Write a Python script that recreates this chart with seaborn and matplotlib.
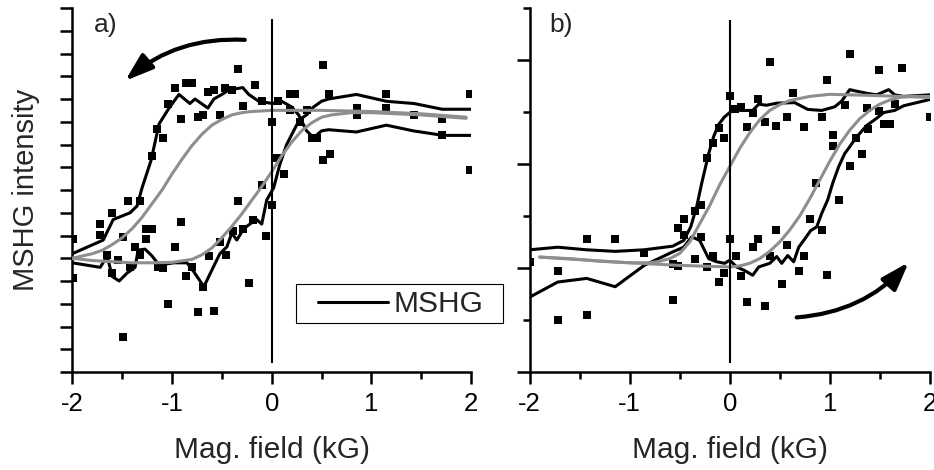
import matplotlib
matplotlib.use("Agg")
import matplotlib.pyplot as plt
import seaborn as sns
import pandas as pd
from matplotlib.lines import Line2D
from matplotlib.patches import Rectangle
from matplotlib.ticker import MultipleLocator

# ---------------- data ----------------
# Panel a) measured points
a_pts_x = [-1.99, -1.99, -1.72, -1.72, -1.65, -1.60, -1.60, -1.54, -1.49, -1.49,
           -1.44, -1.42, -1.37, -1.32, -1.32, -1.26, -1.26, -1.20, -1.20, -1.15,
           -1.14, -1.09, -1.09, -1.04, -1.04, -0.97, -0.97, -0.91, -0.91, -0.86,
           -0.86, -0.80, -0.80, -0.74, -0.74, -0.69, -0.69, -0.64, -0.63, -0.58,
           -0.58, -0.52, -0.52, -0.47, -0.46, -0.40, -0.39, -0.34, -0.34, -0.29,
           -0.29, -0.23, -0.19, -0.17, -0.10, -0.10, -0.06, 0.00, 0.00, 0.05,
           0.06, 0.12, 0.18, 0.23, 0.18, 0.28, 0.35, 0.40, 0.45, 0.51,
           0.51, 0.58, 0.57, 0.86, 0.86, 1.15, 1.15, 1.43, 1.71, 1.71,
           1.99, 1.99]
a_pts_y = [5.85, 4.13, 6.5, 6.02, 5.14, 7.0, 4.35, 4.92, 5.93, 1.54,
           7.5, 4.63, 5.5, 7.5, 5.14, 6.3, 5.85, 6.3, 9.5, 10.7,
           4.63, 4.56, 10.3, 11.8, 3.0, 12.5, 5.5, 11.1, 6.6, 12.7,
           4.2, 12.7, 4.63, 11.2, 2.63, 11.3, 3.73, 12.3, 5.1, 12.4,
           2.7, 11.3, 5.7, 12.5, 5.14, 12.4, 6.2, 13.3, 7.5, 11.7,
           6.3, 3.9, 6.7, 12.6, 8.2, 11.9, 6.0, 11.0, 7.34, 9.4,
           11.9, 8.7, 12.2, 12.2, 11.5, 11.0, 11.5, 10.3, 10.3, 9.3,
           13.5, 9.6, 12.2, 11.6, 11.3, 12.2, 11.6, 11.3, 11.1, 10.4,
           12.2, 8.9]

# Panel a) smoothed MSHG branches (black)
a_br1_x = [-2.0, -1.69, -1.59, -1.42, -1.35, -1.30, -1.21, -1.13, -1.03, -0.93,
           -0.82, -0.77, -0.64, -0.58, -0.50, -0.43, -0.29, -0.23, -0.13, 0.01,
           0.10, 0.20, 0.27, 0.35, 0.42, 0.50, 0.57, 0.85, 1.15, 1.42, 1.72, 2.0]
a_br1_y = [5.2, 5.8, 6.7, 7.0, 7.3, 8.1, 9.3, 10.9, 11.6, 12.2,
           11.8, 12.0, 11.6, 12.0, 12.2, 12.4, 12.5, 12.2, 11.9, 11.8,
           11.9, 11.65, 11.3, 10.6, 10.3, 10.6, 10.65, 10.55, 10.85, 10.6, 10.4, 10.4]
a_br2_x = [-2.0, -1.72, -1.65, -1.60, -1.53, -1.45, -1.37, -1.34, -1.27, -1.20,
           -1.13, -0.98, -0.85, -0.78, -0.68, -0.62, -0.52, -0.45, -0.40, -0.35,
           -0.28, -0.22, -0.15, -0.10, -0.05, 0.02, 0.08, 0.15, 0.22, 0.28,
           0.35, 0.42, 0.50, 0.57, 0.85, 1.15, 1.43, 1.71, 2.0]
a_br2_y = [4.8, 4.6, 5.1, 4.2, 4.0, 4.35, 4.6, 5.36, 5.4, 5.1,
           4.7, 4.8, 4.8, 4.4, 3.75, 4.3, 5.2, 5.5, 6.1, 5.8,
           6.3, 6.5, 6.7, 6.5, 7.56, 8.1, 9.1, 10.0, 10.6, 11.1,
           11.3, 11.65, 11.9, 12.0, 12.2, 11.9, 11.8, 11.55, 11.55]

# Panel a) fitted curves (grey)
a_fit1_x = [-2.0, -1.9, -1.8, -1.7, -1.6, -1.5, -1.4, -1.3, -1.2, -1.1, -1.0, -0.9,
            -0.8, -0.7, -0.6, -0.5, -0.4, -0.3, -0.2, 0.0, 0.5, 1.0, 1.5, 1.95]
a_fit1_y = [5.0, 5.1, 5.2, 5.35, 5.6, 5.9, 6.3, 6.8, 7.4, 8.0, 8.7, 9.35,
            9.95, 10.45, 10.85, 11.1, 11.3, 11.4, 11.45, 11.5, 11.5, 11.45, 11.35, 11.2]
a_fit2_x = [-2.0, -1.8, -1.6, -1.4, -1.2, -1.0, -0.8, -0.7, -0.6, -0.5, -0.4, -0.3,
            -0.2, -0.1, 0.0, 0.1, 0.2, 0.3, 0.4, 0.5, 0.6, 0.8, 1.0, 1.5, 1.95]
a_fit2_y = [5.0, 4.9, 4.85, 4.8, 4.8, 4.82, 4.95, 5.15, 5.45, 5.9, 6.4, 6.95,
            7.55, 8.15, 8.8, 9.5, 10.1, 10.6, 10.95, 11.2, 11.3, 11.4, 11.4, 11.3, 11.15]

# Panel b) measured points
b_pts_x = [-1.995, -1.72, -1.72, -1.43, -1.43, -1.145, -0.855, -0.57, -0.57, -0.52,
           -0.52, -0.46, -0.46, -0.345, -0.345, -0.285, -0.285, -0.23, -0.23, -0.17,
           -0.17, -0.11, -0.11, -0.055, -0.055, 0.0, 0.0, 0.05, 0.065, 0.11,
           0.11, 0.17, 0.17, 0.23, 0.23, 0.28, 0.28, 0.35, 0.35, 0.405,
           0.405, 0.465, 0.465, 0.52, 0.57, 0.57, 0.63, 0.69, 0.745, 0.745,
           0.805, 0.865, 0.92, 0.92, 0.97, 0.97, 1.03, 1.03, 1.09, 1.15,
           1.205, 1.205, 1.265, 1.32, 1.37, 1.38, 1.49, 1.49, 1.54, 1.60,
           1.655, 1.72, 2.0]
b_pts_y = [2.11, 1.95, 1.0, 2.55, 1.1, 2.55, 2.28, 1.39, 2.08, 2.03,
           2.76, 2.95, 2.63, 2.18, 3.1, 3.21, 2.6, 4.12, 2.02, 4.41,
           2.24, 4.7, 1.74, 4.5, 1.9, 5.3, 2.55, 5.05, 2.24, 5.1,
           1.84, 4.71, 1.34, 4.99, 2.4, 5.25, 2.55, 4.8, 1.26, 5.96,
           2.24, 4.74, 2.74, 1.70, 4.9, 2.45, 5.36, 1.95, 4.71, 2.24,
           2.95, 3.64, 4.9, 2.74, 5.61, 1.86, 4.55, 4.35, 3.31, 5.13,
           6.11, 3.97, 4.5, 4.2, 5.07, 4.68, 5.81, 5.02, 4.76, 4.76,
           5.15, 5.85, 4.9]

# Panel b) smoothed MSHG branches (black)
b_br1_x = [-2.0, -1.72, -1.43, -1.145, -0.855, -0.57, -0.46, -0.39, -0.33, -0.28,
           -0.21, -0.16, -0.11, -0.055, 0.0, 0.05, 0.11, 0.23, 0.29, 0.37,
           0.47, 0.65, 0.78, 0.92, 1.05, 1.12, 1.2, 1.27, 1.37, 1.47,
           1.59, 1.65, 1.74, 2.0]
b_br1_y = [2.35, 2.4, 2.35, 2.32, 2.35, 2.42, 2.53, 2.79, 3.18, 3.63,
           4.2, 4.53, 4.76, 4.9, 4.99, 5.05, 5.03, 5.03, 5.15, 5.13,
           5.17, 5.18, 5.05, 5.03, 5.1, 5.21, 5.43, 5.4, 5.36, 5.33,
           5.43, 5.33, 5.3, 5.33]
b_br2_x = [-2.0, -1.72, -1.43, -1.145, -0.855, -0.57, -0.46, -0.38, -0.30, -0.21,
           -0.13, -0.05, 0.0, 0.07, 0.15, 0.23, 0.29, 0.40, 0.47, 0.52,
           0.58, 0.64, 0.69, 0.74, 0.81, 0.87, 0.92, 0.98, 1.03, 1.09,
           1.15, 1.2, 1.26, 1.32, 1.37, 1.47, 1.54, 1.65, 1.74, 2.0]
b_br2_y = [1.44, 1.73, 1.8, 1.64, 2.05, 2.31, 2.4, 2.6, 2.53, 2.18,
           2.12, 2.09, 2.15, 2.02, 1.95, 1.86, 2.02, 2.09, 2.22, 2.09,
           2.24, 2.12, 2.4, 2.53, 2.72, 2.79, 3.05, 3.31, 3.63, 3.95,
           4.2, 4.33, 4.5, 4.63, 4.74, 4.88, 4.99, 5.03, 5.12, 5.24]

# Panel b) fitted curves (grey)
b_fit1_x = [-1.9, -1.6, -1.3, -1.0, -0.8, -0.7, -0.6, -0.5, -0.4, -0.3, -0.2, -0.1,
            0.0, 0.1, 0.2, 0.3, 0.4, 0.5, 0.6, 0.8, 1.0, 1.4, 2.0]
b_fit1_y = [2.21, 2.18, 2.13, 2.1, 2.1, 2.13, 2.18, 2.28, 2.5, 2.85, 3.2, 3.6,
            3.95, 4.3, 4.6, 4.85, 5.03, 5.14, 5.22, 5.3, 5.34, 5.32, 5.28]
b_fit2_x = [-1.9, -1.5, -1.0, -0.5, 0.0, 0.1, 0.2, 0.3, 0.4, 0.5, 0.6, 0.7,
            0.8, 0.9, 1.0, 1.1, 1.2, 1.3, 1.4, 1.5, 1.6, 1.7, 1.8, 2.0]
b_fit2_y = [2.21, 2.16, 2.1, 2.05, 2.02, 2.04, 2.09, 2.18, 2.32, 2.5, 2.73, 3.0,
            3.33, 3.69, 4.05, 4.38, 4.65, 4.87, 5.03, 5.15, 5.23, 5.28, 5.3, 5.3]

# zero-field marker lines (y extent) and sweep-direction arrows (start, tip)
a_zero_span = (0.4, 15.5)
b_zero_span = (0.17, 6.77)
a_arrow = ((-0.27, 14.6), (-1.47, 12.8))
b_arrow = ((0.67, 1.05), (1.79, 2.11))

x_ticks = [-2, -1, 0, 1, 2]
x_tick_labels = ["-2", "-1", "0", "1", "2"]

# ---------------- style ----------------
sns.set_style("ticks")
plt.rcParams['font.family'] = ['Liberation Sans', 'DejaVu Sans']
plt.rcParams['axes.unicode_minus'] = False

BLACK = "#000000"
GREY = "#8e8e8e"
LW = 2.2

fig = plt.figure(figsize=(9.34, 4.70), dpi=100)
ax_a = fig.add_axes([72.3 / 934, 98 / 470, 398.8 / 934, 364 / 470])
ax_b = fig.add_axes([529.7 / 934, 98 / 470, 400 / 934, 364 / 470])


def draw_panel(ax, px, py, br1, br2, fit1, fit2, zero_span, arrow):
    pts = pd.DataFrame({"field": px, "intensity": py})
    sns.scatterplot(data=pts, x="field", y="intensity", marker="s", s=28,
                    color=BLACK, linewidth=0, ax=ax, zorder=3)
    for bx, by in (br1, br2):
        d = pd.DataFrame({"field": bx, "intensity": by})
        sns.lineplot(data=d, x="field", y="intensity", sort=False, estimator=None,
                     color=BLACK, lw=LW, ax=ax, zorder=4)
    for fx, fy in (fit1, fit2):
        d = pd.DataFrame({"field": fx, "intensity": fy})
        sns.lineplot(data=d, x="field", y="intensity", sort=False, estimator=None,
                     color=GREY, lw=LW, ax=ax, zorder=5)
    ax.vlines(0, zero_span[0], zero_span[1], color=BLACK, lw=1.5, zorder=6)
    start, tip = arrow
    ax.annotate("", xy=tip, xytext=start, xycoords="data", textcoords="data",
                arrowprops=dict(arrowstyle="-|>,head_length=0.68,head_width=0.23",
                                connectionstyle="arc3,rad=0.2", lw=3, color=BLACK,
                                mutation_scale=25, shrinkA=0, shrinkB=0),
                zorder=7, annotation_clip=False)
    ax.set_xlim(-2, 2)
    ax.set_xticks(x_ticks)
    ax.set_xticklabels(x_tick_labels)
    ax.xaxis.set_minor_locator(MultipleLocator(0.5))
    for s in ("top", "right"):
        ax.spines[s].set_visible(False)
    for s in ("left", "bottom"):
        ax.spines[s].set_linewidth(1.8)
        ax.spines[s].set_color(BLACK)
    ax.tick_params(axis="x", which="major", direction="out", length=8.6, width=1.8,
                   labelsize=18.5, pad=6, colors=BLACK)
    ax.tick_params(axis="x", which="minor", direction="out", length=4.7, width=1.8,
                   colors=BLACK)
    ax.tick_params(axis="y", which="both", labelleft=False, direction="out",
                   width=1.8, colors=BLACK)
    ax.set_xlabel("Mag. field (kG)", fontsize=21.5, labelpad=14)
    ax.set_ylabel("")
    ax.grid(False)


draw_panel(ax_a, a_pts_x, a_pts_y, (a_br1_x, a_br1_y), (a_br2_x, a_br2_y),
           (a_fit1_x, a_fit1_y), (a_fit2_x, a_fit2_y), a_zero_span, a_arrow)
draw_panel(ax_b, b_pts_x, b_pts_y, (b_br1_x, b_br1_y), (b_br2_x, b_br2_y),
           (b_fit1_x, b_fit1_y), (b_fit2_x, b_fit2_y), b_zero_span, b_arrow)

# y axes
ax_a.set_ylim(0, 16)
ax_a.yaxis.set_major_locator(MultipleLocator(1))
ax_a.tick_params(axis="y", which="major", length=8.6)
ax_b.set_ylim(0, 7)
ax_b.yaxis.set_major_locator(MultipleLocator(2))
ax_b.yaxis.set_minor_locator(MultipleLocator(1))
ax_b.tick_params(axis="y", which="major", length=9.4)
ax_b.tick_params(axis="y", which="minor", length=5)

ax_a.set_ylabel("MSHG intensity", fontsize=21, labelpad=15)

# panel letters
ax_a.text(0.053, 0.933, "a)", transform=ax_a.transAxes, fontsize=19,
          ha="left", va="baseline")
ax_b.text(0.049, 0.934, "b)", transform=ax_b.transAxes, fontsize=19,
          ha="left", va="baseline")

# legend
leg = ax_a.legend(handles=[Line2D([], [], color=BLACK, lw=LW)], labels=["MSHG"],
                  loc="center left", bbox_to_anchor=(0.616, 0.186), frameon=False,
                  borderpad=0, borderaxespad=0, handlelength=2.33, handletextpad=0.2,
                  fontsize=21.5)
ax_a.add_patch(Rectangle((0.561, 0.134), 0.518, 0.108, transform=ax_a.transAxes,
                         fill=False, lw=0.8, ec=BLACK, clip_on=False, zorder=8))

fig.savefig("out.png", dpi=100, facecolor="white")
